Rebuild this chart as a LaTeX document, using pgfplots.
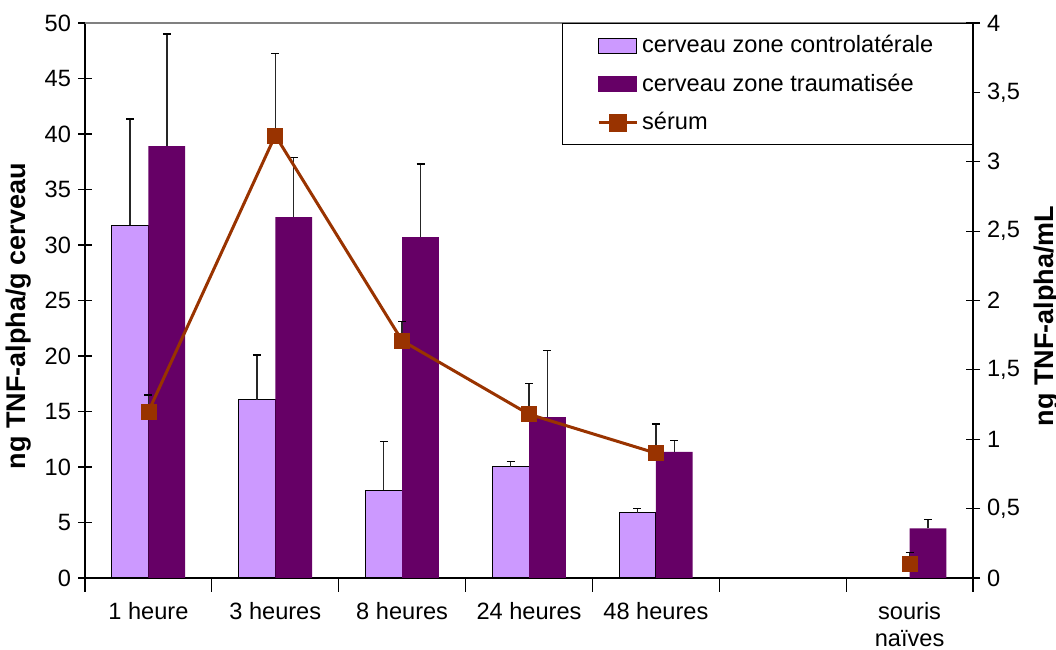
\documentclass[border=0pt]{standalone}
\usepackage{fontspec}
\setmainfont{Liberation Sans}
\usepackage{pgfplots}
\pgfplotsset{compat=1.18}
\definecolor{lilas}{HTML}{CC99FF}
\definecolor{prune}{HTML}{660066}
\definecolor{rouille}{HTML}{993300}

\begin{document}
\begin{tikzpicture}
\pgfplotsset{
  every axis/.append style={
    scale only axis, width=444pt, height=277.5pt,
    xmin=-0.5, xmax=6.5,
    tick align=center, major tick length=7pt, minor tick length=7pt,
    tick style={black, line width=0.6pt},
    ticklabel style={font=\fontsize{11.8}{13.5}\selectfont},
    label style={font=\fontsize{13.5}{16}\selectfont\bfseries},
    /pgf/number format/assume math mode=true,
    axis line style={black, line width=0.6pt},
  },
}
\begin{axis}[
  name=ax,
  ymin=0, ymax=50, ytick={0,5,...,50},
  axis y line*=left, axis x line*=bottom,
  xtick={0,...,6},
  xticklabels={1 heure,3 heures,8 heures,24 heures,48 heures,,souris\\naïves},
  xticklabel style={align=center, yshift=-1.5pt},
  major x tick style={draw=none},
  minor xtick={-0.5,0.5,...,6.5},
  ylabel={ng TNF-alpha/g cerveau},
  ylabel style={at={(ticklabel cs:0.472)}},
  ybar, bar width=0.29,
  error bars/y dir=plus, error bars/y explicit,
  error bars/error bar style={black!85, line width=0.7pt},
  error bars/error mark options={rotate=90, black, mark size=2pt, line width=0.7pt},
]
% cerveau zone controlaterale
\addplot[fill=lilas, draw=black, line width=0.5pt, bar shift=-0.145] coordinates {
  (0,31.8) +- (0,9.55)
  (1,16.05) +- (0,4.05)
  (2,7.9) +- (0,4.4)
  (3,10.0) +- (0,0.5)
  (4,5.87) +- (0,0.4)
};
% cerveau zone traumatisee
\addplot[fill=prune, draw=none, bar shift=0.145] coordinates {
  (0,38.9) +- (0,10.1)
  (1,32.5) +- (0,5.4)
  (2,30.7) +- (0,6.6)
  (3,14.5) +- (0,6.0)
  (4,11.37) +- (0,1.0)
  (6,4.46) +- (0,0.8)
};
\draw[gray, line width=0.6pt] (rel axis cs:0,1) -- (rel axis cs:1,1);
\end{axis}

\begin{axis}[
  ymin=0, ymax=4, ytick={0,0.5,...,4},
  axis y line*=right, axis x line=none,
  /pgf/number format/use comma,
  ylabel={ng TNF-alpha/mL},
  ylabel style={at={(ticklabel cs:0.472)}},
  legend style={at={(1,1)}, anchor=north east, draw=black, line width=0.6pt,
    fill=white, font=\fontsize{11.8}{14}\selectfont,
    inner xsep=17.5pt, inner ysep=4pt, row sep=5pt},
  legend cell align=left,
  error bars/y dir=plus, error bars/y explicit,
  error bars/error bar style={black!85, line width=0.7pt},
  error bars/error mark options={rotate=90, black, mark size=2pt, line width=0.7pt},
]
\addlegendimage{legend image code/.code={\draw[fill=lilas, draw=black, line width=0.5pt] (0pt,-3.7pt) rectangle (19pt,3.7pt);}}
\addlegendentry{cerveau zone controlatérale}
\addlegendimage{legend image code/.code={\fill[prune] (0pt,-3.7pt) rectangle (19pt,3.7pt);}}
\addlegendentry{cerveau zone traumatisée}
% serum
\addplot[rouille, line width=1.5pt, mark=square*, mark size=3.75pt,
  mark options={fill=rouille, draw=rouille, line width=0.3pt},
  legend image code/.code={\draw[rouille, line width=1.5pt] (0pt,0pt) -- (19pt,0pt);
    \fill[rouille] (5.75pt,-3.75pt) rectangle (13.25pt,3.75pt);}]
  coordinates {
  (0,1.20) +- (0,0.12)
  (1,3.19) +- (0,0.59)
  (2,1.71) +- (0,0.14)
  (3,1.18) +- (0,0.22)
  (4,0.90) +- (0,0.21)
};
\addlegendentry{sérum}
\addplot[rouille, only marks, mark=square*, mark size=3.75pt,
  mark options={fill=rouille, draw=rouille, line width=0.3pt}, forget plot]
  coordinates {(6,0.105) +- (0,0.08)};
\end{axis}
\pgfresetboundingbox
\path ([xshift=-42.5pt,yshift=-36pt]ax.south west) rectangle ([xshift=41.5pt,yshift=11.5pt]ax.north east);
\end{tikzpicture}
\end{document}
